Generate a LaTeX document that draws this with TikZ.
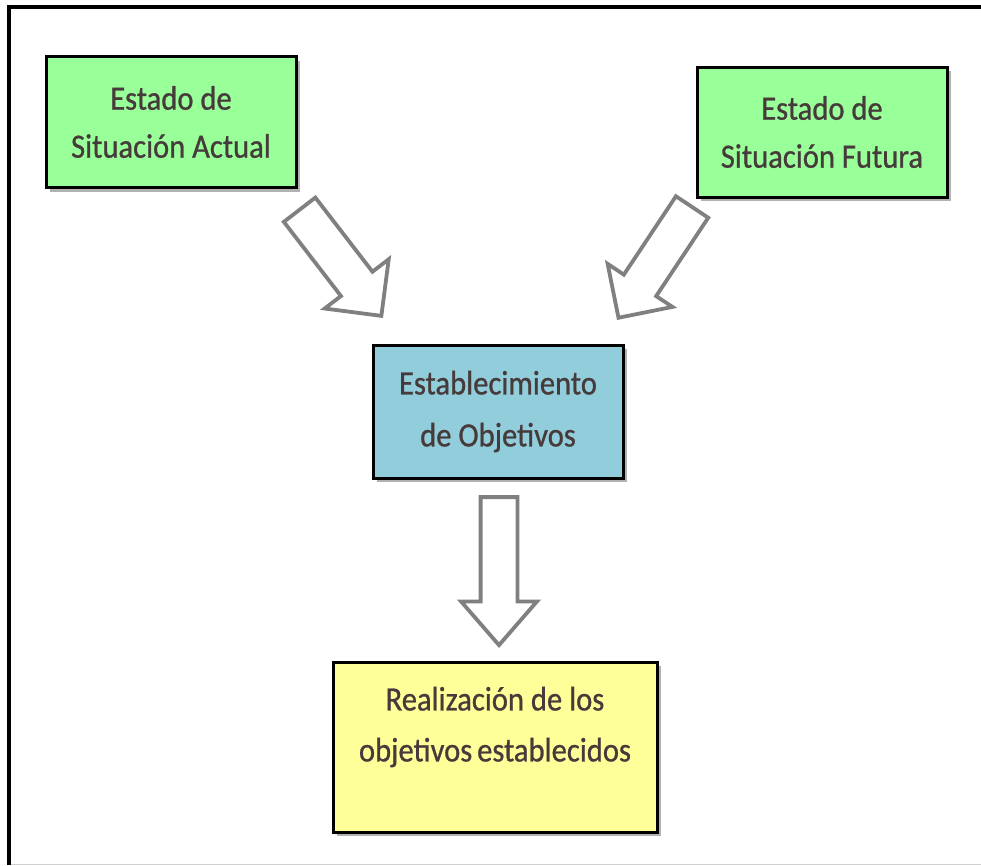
\documentclass[tikz,border=0pt]{standalone}
\usepackage{fontspec}
\setmainfont{Carlito}[FakeStretch=0.9,FakeBold=0.8]
\usetikzlibrary{shapes.arrows,shadows}
\definecolor{boxgreen}{HTML}{99FF99}
\definecolor{boxblue}{HTML}{92CDDC}
\definecolor{boxyellow}{HTML}{FFFF99}
\definecolor{arrowgray}{HTML}{808080}
\definecolor{txtcol}{HTML}{463A3A}
\definecolor{framegray}{HTML}{D0D0D0}
\begin{document}
\begin{tikzpicture}[x=1pt,y=-1pt,
  box/.style={draw=black, line width=3pt, inner sep=0pt, align=center,
    font=\fontsize{34}{48}\selectfont, text=txtcol,
    drop shadow={shadow xshift=4pt, shadow yshift=-4pt, fill=black, opacity=0.3}},
  boxtext/.style={inner sep=0pt, align=center, font=\fontsize{34}{51}\selectfont, text=txtcol},
  blockarrow/.style={single arrow, draw=arrowgray, line width=3.8pt, fill=white,
    inner sep=0pt, anchor=tip}]
\useasboundingbox (0,0) rectangle (981,865);
% frame
\coordinate (fTL) at (9,7);
\coordinate (fTR) at (981,7);
\coordinate (fBL) at (9,865);
\coordinate (gL) at (11,864);
\coordinate (gR) at (981,864);
\draw[line width=4pt] (fBL) -- (fTL) -- (fTR);
\draw[framegray, line width=1pt] (gL) -- (gR);
% boxes
\node[box, fill=boxgreen, minimum width=250pt, minimum height=131pt] (actual) at (171,122)
  {Estado de\\Situación Actual};
\node[box, fill=boxgreen, minimum width=250pt, minimum height=130pt] (futura) at (822,132)
  {Estado de\\Situación Futura};
\node[box, fill=boxblue, minimum width=250pt, minimum height=133pt, font=\fontsize{34}{52}\selectfont] (objet) at (498,411.5)
  {Establecimiento\\de Objetivos};
\node[box, fill=boxyellow, minimum width=324pt, minimum height=170pt] (real) at (495,747) {};
\node[boxtext] (realtxt) at (495,727) {Realización de los\\objetivos\hspace{-2pt} establecidos};
% arrows
\node[blockarrow, text height=36pt, minimum width=77pt, single arrow head extend=20.5pt,
  single arrow tip angle=90, minimum height=134pt, rotate=-52.4] (arrA) at (383,318) {};
\node[blockarrow, text height=35pt, minimum width=74pt, single arrow head extend=19.5pt,
  single arrow tip angle=90, minimum height=133pt, rotate=-123.6] (arrB) at (617,320) {};
\node[blockarrow, text height=33pt, minimum width=72pt, single arrow head extend=19.5pt,
  single arrow tip angle=82, minimum height=148pt, rotate=-90] (arrC) at (499,648) {};
\end{tikzpicture}
\end{document}
